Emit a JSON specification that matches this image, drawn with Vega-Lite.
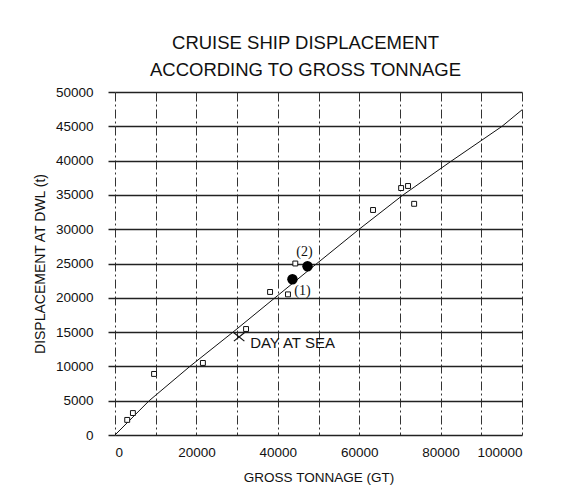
{
  "$schema": "https://vega.github.io/schema/vega-lite/v6.json",
  "autosize": "none",
  "width": 407,
  "height": 343,
  "padding": {"left": 115, "top": 92, "right": 52, "bottom": 56},
  "background": "white",
  "title": {
    "text": ["CRUISE SHIP DISPLACEMENT", "ACCORDING TO GROSS TONNAGE"],
    "font": "Liberation Sans",
    "fontSize": 18.5,
    "fontWeight": "normal",
    "lineHeight": 27,
    "anchor": "middle",
    "frame": "group",
    "dx": -13,
    "offset": 6,
    "color": "#111"
  },
  "config": {
    "view": {"stroke": null},
    "font": "Liberation Sans"
  },
  "datasets": {
    "curve": [
      {"gt": 0, "disp": 0},
      {"gt": 8400, "disp": 5000},
      {"gt": 18400, "disp": 10000},
      {"gt": 29000, "disp": 15000},
      {"gt": 39300, "disp": 20000},
      {"gt": 49600, "disp": 25000},
      {"gt": 60000, "disp": 30000},
      {"gt": 70800, "disp": 35000},
      {"gt": 82800, "disp": 40000},
      {"gt": 95100, "disp": 45000},
      {"gt": 100000, "disp": 47400}
    ],
    "ships": [
      {"gt": 3000, "disp": 2200, "kind": "sq", "label": ""},
      {"gt": 4400, "disp": 3200, "kind": "sq", "label": ""},
      {"gt": 9600, "disp": 8900, "kind": "sq", "label": ""},
      {"gt": 21600, "disp": 10500, "kind": "sq", "label": ""},
      {"gt": 32200, "disp": 15450, "kind": "sq", "label": ""},
      {"gt": 38100, "disp": 20850, "kind": "sq", "label": ""},
      {"gt": 42500, "disp": 20500, "kind": "sq", "label": ""},
      {"gt": 44300, "disp": 25000, "kind": "sq", "label": ""},
      {"gt": 63400, "disp": 32800, "kind": "sq", "label": ""},
      {"gt": 70300, "disp": 36000, "kind": "sq", "label": ""},
      {"gt": 72000, "disp": 36300, "kind": "sq", "label": ""},
      {"gt": 73500, "disp": 33700, "kind": "sq", "label": ""},
      {"gt": 43600, "disp": 22700, "kind": "dot", "label": "(1)"},
      {"gt": 47300, "disp": 24600, "kind": "dot", "label": "(2)"},
      {"gt": 30500, "disp": 14300, "kind": "x", "label": "DAY AT SEA"}
    ]
  },
  "encoding": {
    "x": {
      "field": "gt",
      "type": "quantitative",
      "scale": {"domain": [0, 100000], "nice": false, "zero": false},
      "axis": {
        "title": "GROSS TONNAGE (GT)",
        "values": [0, 10000, 20000, 30000, 40000, 50000, 60000, 70000, 80000, 90000, 100000],
        "format": "d",
        "labelExpr": "datum.value % 20000 === 0 ? datum.label : ''",
        "labelOverlap": false,
        "labelFont": "Liberation Sans",
        "labelFontSize": 13.5,
        "labelColor": "#111",
        "labelPadding": 10,
        "ticks": false,
        "tickSize": 0,
        "domain": false,
        "grid": true,
        "gridColor": "#333",
        "gridWidth": 1,
        "gridDash": [9, 3, 2, 3],
        "gridOpacity": 1,
        "titleFont": "Liberation Sans",
        "titleFontSize": 13.5,
        "titleFontWeight": "normal",
        "titleColor": "#111",
        "titlePadding": 12
      }
    },
    "y": {
      "field": "disp",
      "type": "quantitative",
      "scale": {"domain": [0, 50000], "nice": false},
      "axis": {
        "title": "DISPLACEMENT AT DWL (t)",
        "values": [0, 5000, 10000, 15000, 20000, 25000, 30000, 35000, 40000, 45000, 50000],
        "format": "d",
        "labelOverlap": false,
        "labelFont": "Liberation Sans",
        "labelFontSize": 13.5,
        "labelColor": "#111",
        "labelPadding": 15,
        "ticks": true,
        "tickSize": 7,
        "tickColor": "#222",
        "tickWidth": 1.5,
        "domain": false,
        "grid": true,
        "gridColor": "#222",
        "gridWidth": 1.6,
        "gridOpacity": 1,
        "titleFont": "Liberation Sans",
        "titleFontSize": 14,
        "titleFontWeight": "normal",
        "titleColor": "#111",
        "titlePadding": 8
      }
    }
  },
  "layer": [
    {
      "data": {"name": "curve"},
      "mark": {"type": "line", "color": "#111", "strokeWidth": 1},
      "encoding": {}
    },
    {
      "data": {"name": "ships"},
      "transform": [{"filter": "datum.kind === 'sq'"}],
      "mark": {"type": "point", "shape": "square", "size": 24, "filled": false, "stroke": "#111", "strokeWidth": 1, "opacity": 1, "fill": "white", "fillOpacity": 1},
      "encoding": {}
    },
    {
      "data": {"name": "ships"},
      "transform": [{"filter": "datum.kind === 'dot'"}],
      "mark": {"type": "circle", "size": 110, "color": "#000", "opacity": 1},
      "encoding": {}
    },
    {
      "data": {"name": "ships"},
      "transform": [{"filter": "datum.kind === 'x'"}],
      "mark": {"type": "point", "shape": "M-1,-0.8L1,0.8M-1,0.8L1,-0.8", "size": 110, "filled": false, "stroke": "#111", "strokeWidth": 1.2, "opacity": 1},
      "encoding": {}
    },
    {
      "data": {"name": "ships"},
      "transform": [{"filter": "datum.label === '(1)'"}],
      "mark": {"type": "text", "font": "Liberation Serif", "fontSize": 14, "color": "#111", "align": "center", "baseline": "middle", "dx": 10, "dy": 12},
      "encoding": {"text": {"field": "label"}}
    },
    {
      "data": {"name": "ships"},
      "transform": [{"filter": "datum.label === '(2)'"}],
      "mark": {"type": "text", "font": "Liberation Serif", "fontSize": 14, "color": "#111", "align": "center", "baseline": "middle", "dx": -3, "dy": -14},
      "encoding": {"text": {"field": "label"}}
    },
    {
      "data": {"name": "ships"},
      "transform": [{"filter": "datum.label === 'DAY AT SEA'"}],
      "mark": {"type": "text", "font": "Liberation Sans", "fontSize": 15, "color": "#111", "align": "left", "baseline": "middle", "dx": 11, "dy": 6},
      "encoding": {"text": {"field": "label"}}
    }
  ]
}
